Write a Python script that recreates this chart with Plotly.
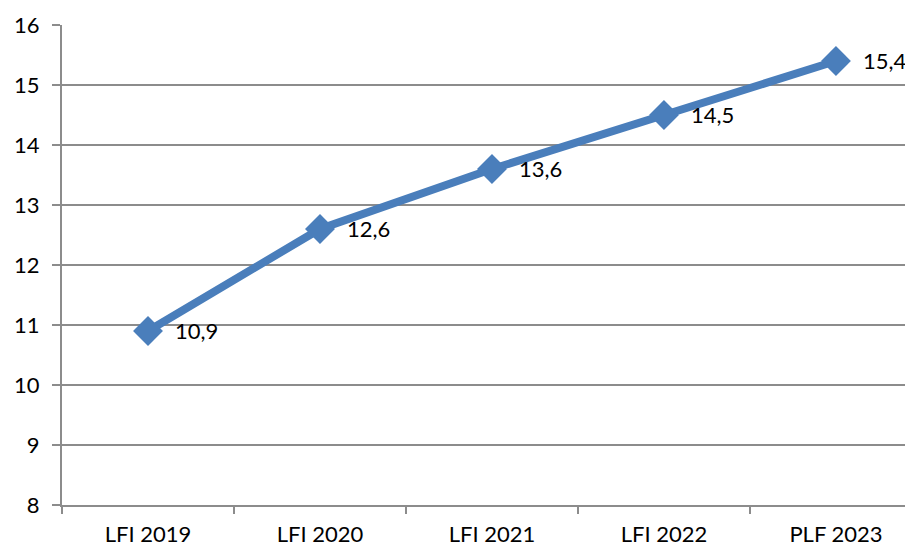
import plotly.graph_objects as go

categories = ["LFI 2019", "LFI 2020", "LFI 2021", "LFI 2022", "PLF 2023"]
values = [10.9, 12.6, 13.6, 14.5, 15.4]
labels = [f"{v:.1f}".replace(".", ",") for v in values]

FONT = "Lato, Open Sans, sans-serif"

fig = go.Figure()
fig.add_trace(go.Scatter(
    x=categories, y=values, mode="lines+markers",
    line=dict(color="#4a7ebb", width=8),
    marker=dict(symbol="diamond", size=23, color="#4a7ebb"),
    cliponaxis=False,
))
for c, v, t in zip(categories, values, labels):
    fig.add_annotation(x=c, y=v, text=t, showarrow=False, xanchor="left",
                       xshift=25, yshift=1,
                       font=dict(family=FONT, size=22, color="#000000"))

fig.update_layout(
    width=913, height=547,
    margin=dict(l=54, r=8, t=17, b=50, autoexpand=False),
    plot_bgcolor="white", paper_bgcolor="white",
    showlegend=False,
    font=dict(family=FONT, size=22, color="#000000"),
)
fig.update_xaxes(
    type="category", range=[-0.5, 4.448], automargin=False,
    showline=True, linecolor="#8c8c8c", linewidth=2,
    ticks="outside", tickson="boundaries", ticklen=7, tickcolor="#8c8c8c", tickwidth=2,
    showgrid=False, tickfont=dict(size=22), ticklabelstandoff=9,
)
fig.update_yaxes(
    range=[8, 16], dtick=1, automargin=False,
    showline=True, linecolor="#8c8c8c", linewidth=2,
    ticks="outside", ticklen=8, tickcolor="#8c8c8c", tickwidth=2,
    showgrid=True, gridcolor="#8c8c8c", gridwidth=2,
    zeroline=False, tickfont=dict(size=22), ticklabelstandoff=8,
)

fig.write_html("out.html")
